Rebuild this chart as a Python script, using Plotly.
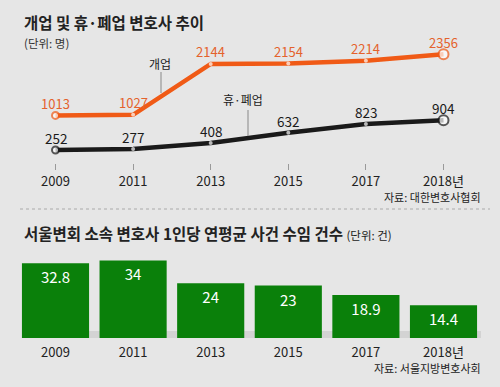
import plotly.graph_objects as go

# ---- data ----
years = ["2009", "2011", "2013", "2015", "2017", "2018년"]
open_counts = [1013, 1027, 2144, 2154, 2214, 2356]
closed_counts = [252, 277, 408, 632, 823, 904]
cases_per_lawyer = [32.8, 34, 24, 23, 18.9, 14.4]

W, H = 500, 387
BG = "#e6e6e6"
ORANGE = "#f05a16"
ORANGE_TXT = "#e4622c"
BLACK = "#1a1a1a"
GREEN = "#0a800a"
FONT = "Noto Sans CJK KR"

def px(x):
    return x / W

def py(y):
    return 1 - y / H

idx = list(range(len(years)))
x_dom = [px(16.7), px(482.3)]

fig = go.Figure()

# top line chart
fig.add_trace(go.Scatter(
    x=idx, y=open_counts, mode="lines+markers", xaxis="x", yaxis="y",
    line=dict(color=ORANGE, width=4.5),
    marker=dict(color="white", size=[7, 4, 4, 4, 4, 10],
                line=dict(color=ORANGE, width=[2, 0, 0, 0, 0, 2])),
    cliponaxis=False, hoverinfo="skip", showlegend=False))
fig.add_trace(go.Scatter(
    x=idx, y=closed_counts, mode="lines+markers", xaxis="x", yaxis="y",
    line=dict(color=BLACK, width=4.5),
    marker=dict(color="white", size=[7, 4, 4, 4, 4, 10],
                line=dict(color=BLACK, width=[2, 0, 0, 0, 0, 2])),
    cliponaxis=False, hoverinfo="skip", showlegend=False))

# bottom bar chart
fig.add_trace(go.Bar(
    x=idx, y=cases_per_lawyer, xaxis="x2", yaxis="y2",
    marker=dict(color=GREEN, line=dict(width=0)), width=0.865,
    text=[str(v) for v in cases_per_lawyer], textposition="inside",
    insidetextanchor="end", textangle=0,
    insidetextfont=dict(color="white", size=15, family=FONT),
    hoverinfo="skip", showlegend=False))

annotations = []
for i, v in enumerate(open_counts):
    annotations.append(dict(x=i, y=v, xref="x", yref="y", text=str(v), showarrow=False,
                            yanchor="middle", yshift=12,
                            font=dict(color=ORANGE_TXT, size=13, family=FONT)))
for i, v in enumerate(closed_counts):
    annotations.append(dict(x=i, y=v, xref="x", yref="y", text=str(v), showarrow=False,
                            yanchor="middle", yshift=12,
                            font=dict(color=BLACK, size=13.5, family=FONT)))

def txt(x, y, s, size, color="#222", xanchor="left", bold=False):
    annotations.append(dict(x=px(x), y=py(y), xref="paper", yref="paper",
                            text=(f"<b>{s}</b>" if bold else s), showarrow=False,
                            xanchor=xanchor, yanchor="middle",
                            font=dict(size=size, color=color, family=FONT)))

txt(22, 22, "개업 및 휴·폐업 변호사 추이", 15.5, "#222", bold=True)
txt(22, 43, "(단위: 명)", 11.5, "#333")
txt(160, 63, "개업", 12, "#222", xanchor="center")
txt(243, 100, "휴·폐업", 12, "#222", xanchor="center")
txt(483, 197, "자료: 대한변호사협회", 11, "#222", xanchor="right")
annotations.append(dict(x=px(22), y=py(233), xref="paper", yref="paper",
                        text="<b>서울변회 소속 변호사 1인당 연평균 사건 수임 건수</b> <span style='font-size:11.5px'>(단위: 건)</span>",
                        showarrow=False, xanchor="left", yanchor="middle",
                        font=dict(size=15.5, color="#222", family=FONT)))
txt(483, 368, "자료: 서울지방변호사회", 11, "#222", xanchor="right")

shapes = [
    dict(type="line", xref="paper", yref="paper", x0=px(161), x1=px(161), y0=py(72), y1=py(93),
         line=dict(color="#888", width=1)),
    dict(type="line", xref="paper", yref="paper", x0=px(248), x1=px(248), y0=py(110), y1=py(136),
         line=dict(color="#888", width=1)),
    dict(type="line", xref="paper", yref="paper", x0=px(20), x1=px(490), y0=py(209), y1=py(209),
         line=dict(color="#aaa", width=1, dash="dot")),
    dict(type="rect", xref="paper", yref="paper", x0=px(22), x1=px(481), y0=py(338), y1=py(331),
         fillcolor="#d3d3d3", line=dict(width=0), layer="below"),
]

fig.update_layout(
    width=W, height=H, margin=dict(l=0, r=0, t=0, b=0),
    paper_bgcolor=BG, plot_bgcolor=BG,
    font=dict(family=FONT, color="#222"),
    xaxis=dict(domain=x_dom, range=[-0.5, 5.5], tickvals=idx, ticktext=years,
               showgrid=False, zeroline=False, showline=False,
               ticks="outside", ticklen=6, tickcolor="#999", tickwidth=1,
               ticklabelstandoff=0, tickfont=dict(size=13, color="#222", family=FONT),
               anchor="y", fixedrange=True),
    yaxis=dict(domain=[py(163), py(40)], range=[-33, 2670], visible=False, fixedrange=True),
    xaxis2=dict(domain=x_dom, range=[-0.5, 5.5], tickvals=idx, ticktext=years,
                showgrid=False, zeroline=False, showline=False, ticks="",
                ticklabelstandoff=5, tickfont=dict(size=13, color="#222", family=FONT),
                anchor="y2", fixedrange=True),
    yaxis2=dict(domain=[py(338), py(250)], range=[0, 38.6], visible=False, fixedrange=True),
    annotations=annotations, shapes=shapes,
)

fig.write_html(
    "out.html",
    config={"displayModeBar": False},
    post_script="document.body.style.margin='0';document.body.style.overflow='hidden';",
)
